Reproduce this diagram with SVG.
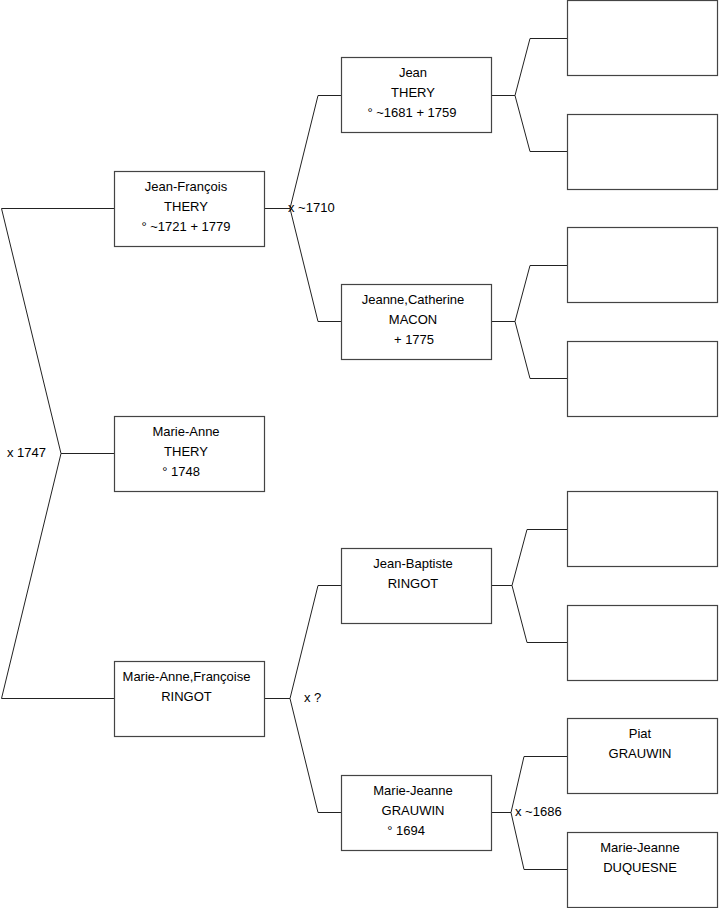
<svg xmlns="http://www.w3.org/2000/svg" width="719" height="908" viewBox="0 0 719 908">
<style>
.box{fill:#fff;stroke:#444;stroke-width:1.2}
.ln{fill:none;stroke:#222;stroke-width:1}
text{font-family:"Liberation Sans",Arial,sans-serif;font-size:13px;fill:#000}
.c{text-anchor:middle}
</style>
<rect width="719" height="908" fill="#fff"/>
<g id="connectors">
<path class="ln" d="M114,208.5H1.5L61,453.5L1.5,698.5H114M61,453.5H114"/>
<path class="ln" d="M264,208.5H290L318,95.5H341M290,208.5L318,321.5H341"/>
<path class="ln" d="M264,698.5H290L318,585.5H341M290,698.5L318,812.5H341"/>
<path class="ln" d="M491,95.5H515L530,38.5H567M515,95.5L530,151.5H567"/>
<path class="ln" d="M491,321.5H515L530,265.5H567M515,321.5L530,378.5H567"/>
<path class="ln" d="M491,585.5H512L527,529.5H567M512,585.5L527,642.5H567"/>
<path class="ln" d="M491,812.5H511L524,756.5H567M511,812.5L524,869.5H567"/>
<text x="7" y="457">x 1747</text>
<text x="288" y="212">x ~1710</text>
<text x="304" y="702">x ?</text>
<text x="515" y="816">x ~1686</text>
</g>
<g id="jean-francois">
<rect class="box" x="114.5" y="171.5" width="150" height="75"/>
<text class="c" x="186" y="191">Jean-François</text>
<text class="c" x="186" y="211">THERY</text>
<text class="c" x="186" y="231">° ~1721 + 1779</text>
</g>
<g id="marie-anne">
<rect class="box" x="114.5" y="416.5" width="150" height="75"/>
<text class="c" x="186" y="436">Marie-Anne</text>
<text class="c" x="186" y="456">THERY</text>
<text class="c" x="181" y="476">° 1748</text>
</g>
<g id="marie-anne-francoise">
<rect class="box" x="114.5" y="661.5" width="150" height="75"/>
<text class="c" x="186.5" y="681">Marie-Anne,Françoise</text>
<text class="c" x="186.5" y="701">RINGOT</text>
</g>
<g id="jean">
<rect class="box" x="341.5" y="57.5" width="150" height="75"/>
<text class="c" x="413" y="77">Jean</text>
<text class="c" x="413" y="97">THERY</text>
<text class="c" x="412" y="117">° ~1681 + 1759</text>
</g>
<g id="jeanne-catherine">
<rect class="box" x="341.5" y="284.5" width="150" height="75"/>
<text class="c" x="413" y="304">Jeanne,Catherine</text>
<text class="c" x="413" y="324">MACON</text>
<text class="c" x="414" y="344">+ 1775</text>
</g>
<g id="jean-baptiste">
<rect class="box" x="341.5" y="548.5" width="150" height="75"/>
<text class="c" x="413" y="568">Jean-Baptiste</text>
<text class="c" x="413" y="588">RINGOT</text>
</g>
<g id="marie-jeanne">
<rect class="box" x="341.5" y="775.5" width="150" height="75"/>
<text class="c" x="413" y="795">Marie-Jeanne</text>
<text class="c" x="413" y="815">GRAUWIN</text>
<text class="c" x="406" y="835">° 1694</text>
</g>
<g id="g1"><rect class="box" x="567.5" y="0.5" width="150" height="75"/></g>
<g id="g2"><rect class="box" x="567.5" y="114.5" width="150" height="75"/></g>
<g id="g3"><rect class="box" x="567.5" y="227.5" width="150" height="75"/></g>
<g id="g4"><rect class="box" x="567.5" y="341.5" width="150" height="75"/></g>
<g id="g5"><rect class="box" x="567.5" y="491.5" width="150" height="75"/></g>
<g id="g6"><rect class="box" x="567.5" y="605.5" width="150" height="75"/></g>
<g id="piat">
<rect class="box" x="567.5" y="718.5" width="150" height="75"/>
<text class="c" x="640" y="738">Piat</text>
<text class="c" x="640" y="758">GRAUWIN</text>
</g>
<g id="marie-jeanne-duquesne">
<rect class="box" x="567.5" y="832.5" width="150" height="75"/>
<text class="c" x="640" y="852">Marie-Jeanne</text>
<text class="c" x="640" y="872">DUQUESNE</text>
</g>
</svg>
